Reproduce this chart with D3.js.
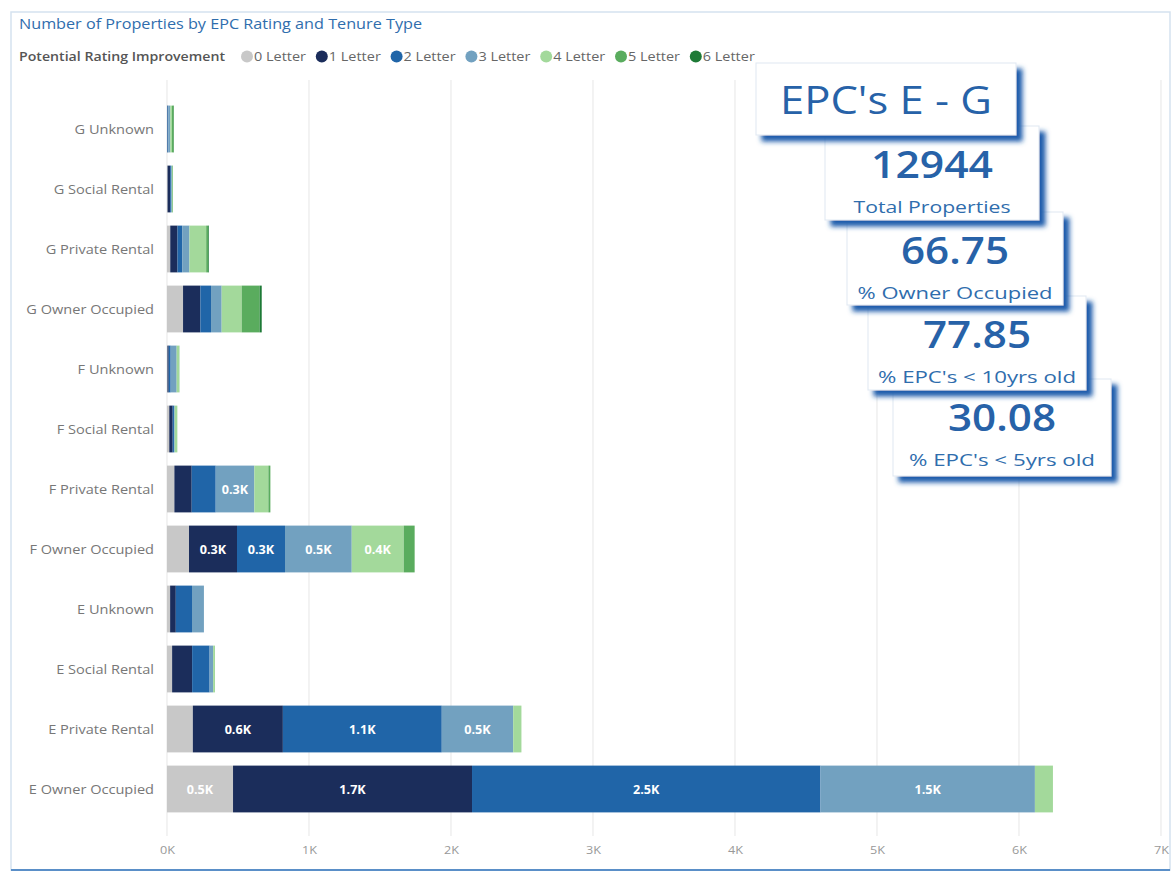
<!DOCTYPE html>
<html><head><meta charset="utf-8">
<script src="https://cdn.jsdelivr.net/npm/d3@7"></script>
<style>
body{margin:0;background:#fff;}
svg{display:block;font-family:"Open Sans","Noto Sans",sans-serif;}
</style>
</head><body>
<svg id="c" width="1174" height="873"></svg>
<script>
const categories = ["G Unknown","G Social Rental","G Private Rental","G Owner Occupied",
  "F Unknown","F Social Rental","F Private Rental","F Owner Occupied",
  "E Unknown","E Social Rental","E Private Rental","E Owner Occupied"];
const seriesNames = ["0 Letter","1 Letter","2 Letter","3 Letter","4 Letter","5 Letter","6 Letter"];
const letter0 = [0, 4, 23, 113, 3, 16, 52, 155, 22, 36, 182, 465];
const letter1 = [3, 18, 51, 122, 9, 24, 122, 338, 40, 141, 634, 1683];
const letter2 = [6, 6, 33, 75, 14, 9, 169, 338, 114, 123, 1119, 2454];
const letter3 = [14, 6, 51, 75, 42, 5, 272, 470, 84, 25, 503, 1510];
const letter4 = [12, 4, 118, 141, 17, 19, 99, 366, 0, 13, 58, 127];
const letter5 = [12, 4, 14, 127, 2, 0, 14, 77, 0, 0, 0, 0];
const letter6 = [2, 0, 5, 14, 0, 0, 0, 0, 0, 0, 0, 0];
const seriesColors = ["#c8c8c8","#1b2d5b","#2065a8","#72a1c0","#a3d99b","#5aac5e","#1e7a37"];
const xTicks = [0,1000,2000,3000,4000,5000,6000,7000];
const chartTitle = "Number of Properties by EPC Rating and Tenure Type";
const legendTitle = "Potential Rating Improvement";
const cardValues = ["12944","66.75","77.85","30.08"];
const cardLabels = ["Total Properties","% Owner Occupied","% EPC's < 10yrs old","% EPC's < 5yrs old"];
const headerCard = "EPC's E - G";

const allSeries = [letter0,letter1,letter2,letter3,letter4,letter5,letter6];
const rows = categories.map((c,i)=>{const r={cat:c}; seriesNames.forEach((s,j)=>r[s]=allSeries[j][i]); return r;});

function stretch(sel, k){
  sel.each(function(){ const w=this.getComputedTextLength(); d3.select(this).attr("textLength",w*k).attr("lengthAdjust","spacingAndGlyphs"); });
}

const svg = d3.select("#c");
const defs = svg.append("defs");
const f = defs.append("filter").attr("id","sh").attr("x","-10%").attr("y","-10%").attr("width","130%").attr("height","140%");
f.append("feDropShadow").attr("dx",6).attr("dy",6).attr("stdDeviation",2.6)
  .attr("flood-color","#1d5cab").attr("flood-opacity",1);

// container
svg.append("rect").attr("x",11).attr("y",12).attr("width",1159).attr("height",858)
  .attr("fill","#fff").attr("stroke","#d5e2ef").attr("stroke-width",1.5);
svg.append("line").attr("x1",11).attr("x2",1170).attr("y1",870).attr("y2",870)
  .attr("stroke","#5a8fc8").attr("stroke-width",2);

// title
svg.append("text").attr("x",19).attr("y",29).text(chartTitle)
  .attr("fill","#2f6dad").attr("font-size",14).attr("textLength",403).attr("lengthAdjust","spacingAndGlyphs");

// legend
svg.append("text").attr("x",19).attr("y",61).text(legendTitle)
  .attr("fill","#555").attr("font-size",12).attr("font-weight",600)
  .attr("textLength",206).attr("lengthAdjust","spacingAndGlyphs");
const lg = svg.append("g").selectAll("g").data(seriesNames).join("g")
  .attr("transform",(d,i)=>`translate(${247+i*74.8},56.5)`);
lg.append("circle").attr("r",6).attr("fill",(d,i)=>seriesColors[i]);
lg.append("text").attr("x",7).attr("y",4.5).text(d=>d).attr("fill","#666").attr("font-size",12)
  .attr("textLength",52).attr("lengthAdjust","spacingAndGlyphs");

// scales
const x = d3.scaleLinear().domain([0,7000]).range([167,1161]);
const y = d3.scaleBand().domain(categories).range([99,819]).paddingInner(0.22).paddingOuter(0.11);
const color = d3.scaleOrdinal().domain(seriesNames).range(seriesColors);

// grid
svg.append("g").selectAll("line").data(xTicks).join("line")
  .attr("x1",d=>x(d)).attr("x2",d=>x(d)).attr("y1",80).attr("y2",836)
  .attr("stroke","#ececec").attr("stroke-width",1.3);

// x axis labels
const xAxis = svg.append("g").attr("transform","translate(0,836)")
  .call(d3.axisBottom(x).tickValues(xTicks).tickFormat(d=>(d/1000)+"K").tickSize(0).tickPadding(10));
xAxis.select(".domain").remove();
xAxis.selectAll("text").attr("fill","#999").attr("font-size",11.5).attr("font-family","Open Sans, sans-serif");
stretch(xAxis.selectAll("text"),1.1);

// y axis labels
const yAxis = svg.append("g").attr("transform","translate(167,0)")
  .call(d3.axisLeft(y).tickSize(0).tickPadding(13));
yAxis.select(".domain").remove();
yAxis.selectAll("text").attr("fill","#777").attr("font-size",13).attr("dy","0.4em").attr("font-family","Open Sans, sans-serif");
stretch(yAxis.selectAll("text"),1.12);

// stacked bars
const stack = d3.stack().keys(seriesNames)(rows);
const layers = svg.append("g").selectAll("g").data(stack).join("g").attr("fill",d=>color(d.key));
layers.selectAll("rect").data(d=>d).join("rect")
  .attr("x",d=>x(d[0])).attr("y",d=>y(d.data.cat))
  .attr("width",d=>Math.max(0,x(d[1])-x(d[0]))).attr("height",y.bandwidth());

// labels
const lab = [];
stack.forEach(layer=>layer.forEach(d=>{ if (x(d[1])-x(d[0])>30) lab.push(d); }));
const labs = svg.append("g").selectAll("text").data(lab).join("text")
  .attr("x",d=>(x(d[0])+x(d[1]))/2).attr("y",d=>y(d.data.cat)+y.bandwidth()/2+4.5)
  .attr("text-anchor","middle").attr("fill","#fff").attr("font-size",12).attr("font-weight",700)
  .text(d=>d3.format(".1f")((d[1]-d[0])/1000)+"K");
stretch(labs,1.05);

// KPI cards (drawn bottom first so earlier cards sit on top)
const cardBoxes = [
  {x:825,y:126,w:214,h:94},
  {x:847,y:212,w:216,h:93},
  {x:868,y:296,w:218,h:94},
  {x:893,y:379,w:218,h:97}
];
for (let i=cardValues.length-1;i>=0;i--){
  const b = cardBoxes[i];
  const g = svg.append("g");
  g.append("rect").attr("x",b.x).attr("y",b.y).attr("width",b.w).attr("height",b.h)
    .attr("fill","#fff").attr("stroke","#dfe8f2").attr("filter","url(#sh)");
  const vw = [122,108,108,108][i];
  g.append("text").attr("x",b.x+b.w/2).attr("y",b.y+52).attr("text-anchor","middle")
    .attr("fill","#2762a8").attr("font-size",38).attr("font-weight",600).text(cardValues[i])
    .attr("textLength",vw).attr("lengthAdjust","spacingAndGlyphs");
  const lw = [157,195,198,186][i];
  g.append("text").attr("x",b.x+b.w/2).attr("y",b.y+87).attr("text-anchor","middle")
    .attr("fill","#2f6dad").attr("font-size",17).text(cardLabels[i])
    .attr("textLength",lw).attr("lengthAdjust","spacingAndGlyphs");
}
const hg = svg.append("g");
hg.append("rect").attr("x",756).attr("y",63).attr("width",260).attr("height",72)
  .attr("fill","#fff").attr("stroke","#dfe8f2").attr("filter","url(#sh)");
hg.append("text").attr("x",886).attr("y",114).attr("text-anchor","middle").attr("fill","#2762a8")
  .attr("font-size",39).text(headerCard).attr("textLength",212).attr("lengthAdjust","spacingAndGlyphs");
</script>
</body></html>
